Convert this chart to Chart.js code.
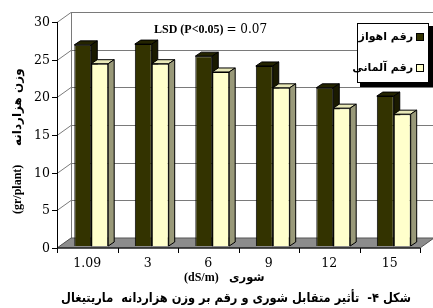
<!DOCTYPE html>
<html>
<head>
<meta charset="utf-8">
<script src="https://cdn.jsdelivr.net/npm/chart.js@4"></script>
<style>
  body { margin: 0; background: #fff; }
  canvas { display: block; }
</style>
</head>
<body>
<canvas id="chart" width="433" height="308"></canvas>
<script>
// data
const salinity = ["1.09", "3", "6", "9", "12", "15"];
const ahvaz = [26.7, 26.8, 25.2, 23.9, 21.0, 19.9];
const almani = [24.2, 24.2, 23.1, 21.0, 18.3, 17.5];
const yTicks = [0, 5, 10, 15, 20, 25, 30];
const seriesNames = ["رقم اهواز", "رقم آلمانی"];

const frontColors = ["#333300", "#ffffcc"];
const topColors = ["#242400", "#e8e8b8"];
const sideColors = ["#1a1a00", "#999979"];

// 3d offsets
const FX = -4, FY = 2;     // front axis relative to bars
const BX = 14, BY = -10;   // back wall relative to front axis
const DX = 6, DY = 4;      // bar depth

const walls = {
  id: "walls",
  beforeDatasetsDraw(chart) {
    const ctx = chart.ctx;
    const y = chart.scales.y, x = chart.scales.x;
    const ca = chart.chartArea;
    const left = ca.left + FX, right = ca.right + FX;
    const y0 = y.getPixelForValue(0) + FY;
    const yTop = y.getPixelForValue(30) + FY;
    ctx.save();
    ctx.lineWidth = 1;
    // grid on back wall and side wall
    ctx.strokeStyle = "#7a7a7a";
    yTicks.forEach(v => {
      const py = Math.round(y.getPixelForValue(v) + FY) + 0.5;
      ctx.beginPath();
      ctx.moveTo(left, py);
      ctx.lineTo(left + BX, py + BY);
      ctx.lineTo(433, py + BY);
      ctx.stroke();
    });
    ctx.beginPath();
    ctx.moveTo(left + BX + 0.5, yTop + BY);
    ctx.lineTo(left + BX + 0.5, y0 + BY);
    ctx.stroke();
    // floor
    ctx.fillStyle = "#8c8c8c";
    ctx.beginPath();
    ctx.moveTo(left, y0);
    ctx.lineTo(right, y0);
    ctx.lineTo(right + BX, y0 + BY);
    ctx.lineTo(left + BX, y0 + BY);
    ctx.closePath();
    ctx.fill();
    ctx.strokeStyle = "#555";
    ctx.stroke();

    // front axis
    ctx.strokeStyle = "#000";
    ctx.beginPath();
    ctx.moveTo(left + 0.5, yTop);
    ctx.lineTo(left + 0.5, y0);
    ctx.lineTo(right, y0);
    ctx.stroke();
    ctx.fillStyle = "#000";
    ctx.font = "12.5px 'DejaVu Serif'";
    ctx.textAlign = "right";
    ctx.textBaseline = "middle";
    yTicks.forEach(v => {
      const py = Math.round(y.getPixelForValue(v) + FY) + 0.5;
      ctx.beginPath();
      ctx.moveTo(left - 5, py);
      ctx.lineTo(left, py);
      ctx.stroke();
      ctx.fillText(String(v), left - 7, py);
    });
    const cw = (right - left) / salinity.length;
    for (let i = 0; i <= salinity.length; i++) {
      const px = Math.round(left + i * cw) + 0.5;
      ctx.beginPath();
      ctx.moveTo(px, y0);
      ctx.lineTo(px, y0 + 5);
      ctx.stroke();
    }
    ctx.textAlign = "center";
    salinity.forEach((s, i) => {
      ctx.fillText(s, x.getPixelForValue(i) + FX, 264);
    });

    // bar tops and sides
    chart.data.datasets.forEach((ds, di) => {
      chart.getDatasetMeta(di).data.forEach(bar => {
        const l = bar.x - bar.width / 2, r = bar.x + bar.width / 2;
        const t = bar.y, b = bar.base;
        ctx.strokeStyle = "#000";
        ctx.fillStyle = topColors[di];
        ctx.beginPath();
        ctx.moveTo(l, t);
        ctx.lineTo(l + DX, t - DY);
        ctx.lineTo(r + DX, t - DY);
        ctx.lineTo(r, t);
        ctx.closePath();
        ctx.fill();
        ctx.stroke();
        ctx.fillStyle = sideColors[di];
        ctx.beginPath();
        ctx.moveTo(r, t);
        ctx.lineTo(r + DX, t - DY);
        ctx.lineTo(r + DX, b - DY);
        ctx.lineTo(r, b);
        ctx.closePath();
        ctx.fill();
        ctx.stroke();
      });
    });
    ctx.restore();
  },
  afterDraw(chart) {
    const ctx = chart.ctx;
    ctx.save();
    ctx.fillStyle = "#000";
    ctx.textBaseline = "alphabetic";

    // LSD note
    ctx.textAlign = "left";
    ctx.font = "bold 12px 'Liberation Serif'";
    ctx.fillText("LSD (P<0.05)", 154, 33);
    const w = ctx.measureText("LSD (P<0.05) ").width;
    ctx.font = "12px 'DejaVu Serif'";
    ctx.fillText("= 0.07", 154 + w, 33);

    // legend
    ctx.fillStyle = "#000";
    ctx.fillRect(360, 26, 73, 61);
    ctx.fillStyle = "#fff";
    ctx.fillRect(357, 23, 72, 60);
    ctx.strokeStyle = "#000";
    ctx.lineWidth = 1;
    ctx.strokeRect(357.5, 23.5, 71, 59);
    ctx.font = "bold 11px 'DejaVu Sans'";
    ctx.textAlign = "right";
    ctx.textBaseline = "middle";
    seriesNames.forEach((n, i) => {
      const cy = 37 + i * 31;
      ctx.fillStyle = frontColors[i];
      ctx.fillRect(416.5, cy - 3.5, 7, 7);
      ctx.strokeRect(416.5, cy - 3.5, 7, 7);
      ctx.fillStyle = "#000";
      ctx.fillText(n, 413, cy);
    });

    // y title
    ctx.save();
    ctx.translate(18, 0);
    ctx.rotate(-Math.PI / 2);
    ctx.textAlign = "left";
    ctx.font = "bold 12px 'Liberation Serif'";
    ctx.fillText("(gr/plant)", -214, 0);
    ctx.font = "bold 12px 'DejaVu Sans'";
    ctx.fillText("وزن هزاردانه", -146, 0);
    ctx.restore();

    // x title
    ctx.textAlign = "left";
    ctx.textBaseline = "alphabetic";
    ctx.font = "bold 12px 'Liberation Serif'";
    ctx.fillText("(dS/m)", 184, 281);
    ctx.font = "bold 11.5px 'DejaVu Sans'";
    ctx.fillText("شوری", 229, 281);

    // caption, squeezed to span about 350px
    const caption = "شکل ۴-  تأثیر متقابل شوری و رقم بر وزن هزاردانه  ماریتیغال";
    ctx.font = "bold 13px 'DejaVu Sans'";
    const cwid = ctx.measureText(caption).width;
    ctx.save();
    ctx.translate(236, 302);
    ctx.scale(350 / cwid, 1);
    ctx.textAlign = "center";
    ctx.fillText(caption, 0, 0);
    ctx.restore();
    ctx.restore();
  }
};

new Chart(document.getElementById("chart"), {
  type: "bar",
  data: {
    labels: salinity,
    datasets: [
      {
        label: seriesNames[0],
        data: ahvaz,
        backgroundColor: frontColors[0],
        borderColor: "#000",
        borderWidth: 1
      },
      {
        label: seriesNames[1],
        data: almani,
        backgroundColor: frontColors[1],
        borderColor: "#000",
        borderWidth: 1
      }
    ]
  },
  options: {
    responsive: false,
    animation: false,
    layout: { padding: { left: 61, right: 9, top: 20, bottom: 62 } },
    categoryPercentage: 0.56,
    barPercentage: 1,
    plugins: {
      legend: { display: false },
      tooltip: { enabled: false }
    },
    scales: {
      x: { display: false },
      y: { display: false, min: 0, max: 30 }
    }
  },
  plugins: [walls]
});
</script>
</body>
</html>
